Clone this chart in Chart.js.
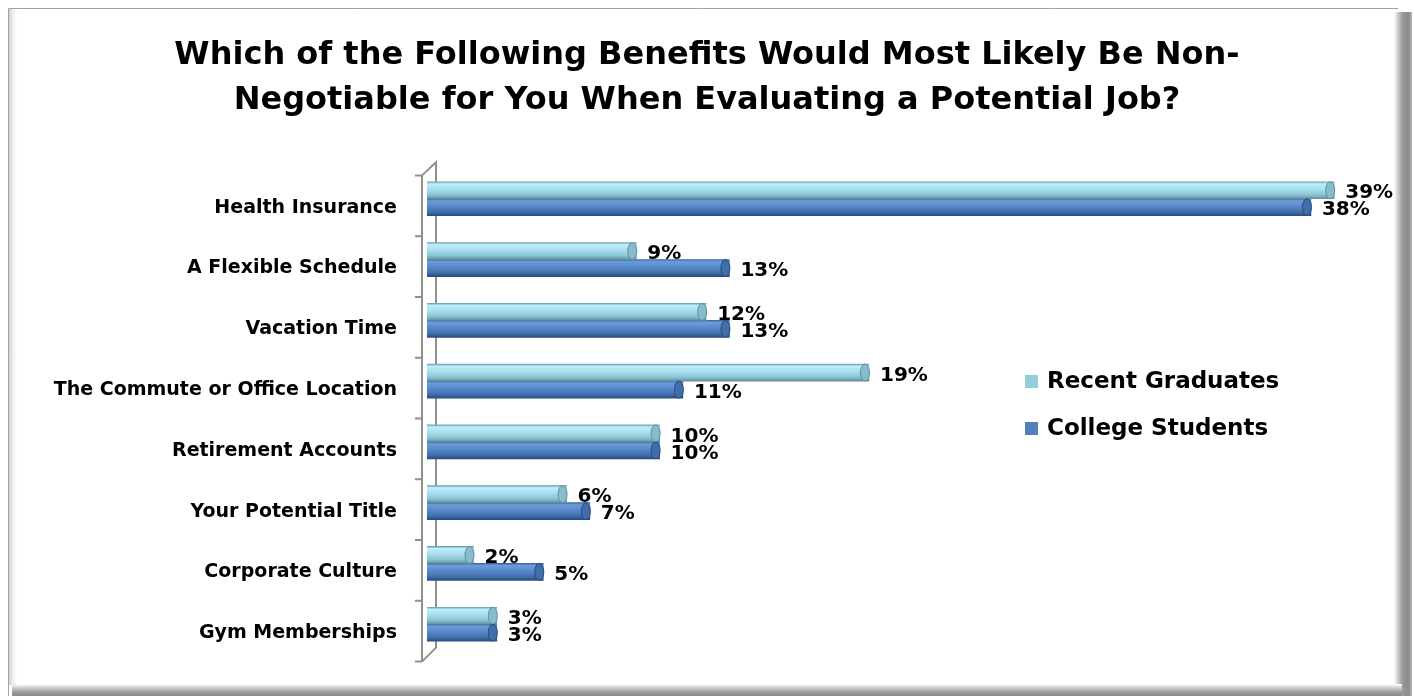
<!DOCTYPE html>
<html>
<head>
<meta charset="utf-8">
<script src="https://cdn.jsdelivr.net/npm/chart.js@4.4.0/dist/chart.umd.min.js"></script>
<style>
  html, body { margin: 0; padding: 0; background: #fff; }
</style>
</head>
<body>
<canvas id="chart" width="1414" height="696"></canvas>
<script>
const titleLines = [
  'Which of the Following Benefits Would Most Likely Be Non-',
  'Negotiable for You When Evaluating a Potential Job?'
];
const categories = [
  'Health Insurance',
  'A Flexible Schedule',
  'Vacation Time',
  'The Commute or Office Location',
  'Retirement Accounts',
  'Your Potential Title',
  'Corporate Culture',
  'Gym Memberships'
];
const seriesNames = ['Recent Graduates', 'College Students'];
const recentGraduates = [39, 9, 12, 19, 10, 6, 2, 3];
const collegeStudents = [38, 13, 13, 11, 10, 7, 5, 3];

const FONT = 'DejaVu Sans';

// gradient stops for the cylinder look, one set per series
const shades = [
  { key: '#92cddc', cap: '#86bccb', stops: ['#6f9fad', '#bdeefb', '#a6deed', '#8bc2d1', '#5f8f9c'] },
  { key: '#4f81bd', cap: '#3f6ea9', stops: ['#3a67a0', '#6d9cdb', '#5688c9', '#416fab', '#2b4c7c'] }
];

// outer frame with shadow, like the Excel chart border
const frame = {
  id: 'frame',
  beforeDraw(chart) {
    const c = chart.ctx;
    const W = chart.width, H = chart.height;
    c.save();
    c.fillStyle = '#fff';
    c.fillRect(0, 0, W, H);

    let g = c.createLinearGradient(1394, 0, 1412, 0);
    g.addColorStop(0, '#ffffff');
    g.addColorStop(0.2, '#d2d2d2');
    g.addColorStop(0.45, '#9c9c9c');
    g.addColorStop(0.8, '#8a8a8a');
    g.addColorStop(1, '#b5b5b5');
    c.fillStyle = g;
    c.fillRect(1394, 12, 18, H - 12);

    g = c.createLinearGradient(0, 684, 0, 696);
    g.addColorStop(0, '#ffffff');
    g.addColorStop(0.3, '#d0d0d0');
    g.addColorStop(0.7, '#9a9a9a');
    g.addColorStop(1, '#8c8c8c');
    c.fillStyle = g;
    c.fillRect(12, 684, 1390, 12);

    g = c.createLinearGradient(9, 0, 19, 0);
    g.addColorStop(0, '#cfcfcf');
    g.addColorStop(1, 'rgba(255,255,255,0)');
    c.fillStyle = g;
    c.fillRect(9, 9, 10, 676);

    c.strokeStyle = '#a3a3a3';
    c.lineWidth = 1;
    c.beginPath();
    c.moveTo(8.5, 696);
    c.lineTo(8.5, 8.5);
    c.lineTo(1398, 8.5);
    c.stroke();
    c.restore();
  }
};

// the 3D category axis: front line, back wall edge and ticks
const axisWall = {
  id: 'axisWall',
  beforeDatasetsDraw(chart) {
    const { ctx, chartArea: a, scales: { y } } = chart;
    const n = y.ticks.length;
    const step = (a.bottom - a.top) / n;
    const shift = 7;
    const front = a.left - 5, back = a.left + 9, tickStart = a.left - 12;
    const top = a.top + shift, bottom = a.bottom + shift;
    ctx.save();
    ctx.strokeStyle = '#909090';
    ctx.lineWidth = 2;
    ctx.beginPath();
    ctx.moveTo(front, top);
    ctx.lineTo(front, bottom);
    for (let i = 0; i <= n; i++) {
      const yy = top + i * step;
      ctx.moveTo(tickStart, yy);
      ctx.lineTo(front, yy);
    }
    ctx.moveTo(front, top);
    ctx.lineTo(back, top - 13);
    ctx.lineTo(back, bottom - 14);
    ctx.lineTo(front, bottom);
    ctx.stroke();
    ctx.restore();
  }
};

// per-bar vertical gradient so the bars look round
const cylinders = {
  id: 'cylinders',
  beforeDatasetsDraw(chart) {
    const ctx = chart.ctx;
    chart.data.datasets.forEach((ds, di) => {
      const s = shades[di].stops;
      chart.getDatasetMeta(di).data.forEach(bar => {
        const { y, height } = bar.getProps(['y', 'height'], true);
        const g = ctx.createLinearGradient(0, y - height / 2, 0, y + height / 2);
        g.addColorStop(0, s[0]);
        g.addColorStop(0.12, s[1]);
        g.addColorStop(0.45, s[2]);
        g.addColorStop(0.78, s[3]);
        g.addColorStop(1, s[4]);
        // options are shared between bars, so give each bar its own copy
        bar.options = Object.assign({}, bar.options, { backgroundColor: g });
      });
    });
  },
  afterDatasetsDraw(chart) {
    const ctx = chart.ctx;
    ctx.save();
    chart.data.datasets.forEach((ds, di) => {
      chart.getDatasetMeta(di).data.forEach(bar => {
        const { x, y, height } = bar.getProps(['x', 'y', 'height'], true);
        ctx.beginPath();
        ctx.ellipse(x - 4, y, 4.5, height / 2, 0, 0, Math.PI * 2);
        ctx.fillStyle = shades[di].cap;
        ctx.fill();
        ctx.strokeStyle = shades[di].stops[4];
        ctx.lineWidth = 1;
        ctx.stroke();
      });
    });
    ctx.restore();
  }
};

const valueLabels = {
  id: 'valueLabels',
  afterDatasetsDraw(chart) {
    const ctx = chart.ctx;
    ctx.save();
    ctx.font = 'bold 20px "' + FONT + '"';
    ctx.fillStyle = '#000';
    ctx.textAlign = 'left';
    ctx.textBaseline = 'middle';
    chart.data.datasets.forEach((ds, di) => {
      chart.getDatasetMeta(di).data.forEach((bar, i) => {
        ctx.fillText(ds.data[i] + '%', bar.x + 11, bar.y + 3);
      });
    });
    ctx.restore();
  }
};

const sideLegend = {
  id: 'sideLegend',
  afterDraw(chart) {
    const ctx = chart.ctx;
    const x = 1025, y0 = 381, gap = 47;
    ctx.save();
    ctx.font = 'bold 23px "' + FONT + '"';
    ctx.textBaseline = 'middle';
    ctx.textAlign = 'left';
    chart.data.datasets.forEach((ds, di) => {
      const yy = y0 + di * gap;
      ctx.fillStyle = shades[di].key;
      ctx.fillRect(x, yy - 6, 13, 13);
      ctx.fillStyle = '#000';
      ctx.fillText(ds.label, x + 22, yy + 1);
    });
    ctx.restore();
  }
};

new Chart(document.getElementById('chart'), {
  type: 'bar',
  data: {
    labels: categories,
    datasets: [
      { label: seriesNames[0], data: recentGraduates, backgroundColor: shades[0].key },
      { label: seriesNames[1], data: collegeStudents, backgroundColor: shades[1].key }
    ]
  },
  options: {
    indexAxis: 'y',
    responsive: false,
    animation: false,
    layout: { padding: { left: 10, right: 10, top: 0, bottom: 37.6 } },
    datasets: { bar: { barThickness: 17, borderWidth: 0 } },
    scales: {
      x: { display: false, min: 0, max: 42 },
      y: {
        grid: { display: false, drawTicks: false },
        border: { display: false },
        ticks: {
          color: '#000',
          padding: 30,
          labelOffset: 9,
          autoSkip: false,
          font: { family: FONT, size: 19, weight: 'bold' }
        },
        afterFit(scale) { scale.width = 417; }
      }
    },
    plugins: {
      legend: { display: false },
      tooltip: { enabled: false },
      title: {
        display: true,
        text: titleLines,
        color: '#000',
        font: { family: FONT, size: 32, weight: 'bold', lineHeight: 1.406 },
        padding: { top: 33.5, bottom: 44.9 }
      }
    }
  },
  plugins: [frame, axisWall, cylinders, valueLabels, sideLegend]
});
</script>
</body>
</html>
